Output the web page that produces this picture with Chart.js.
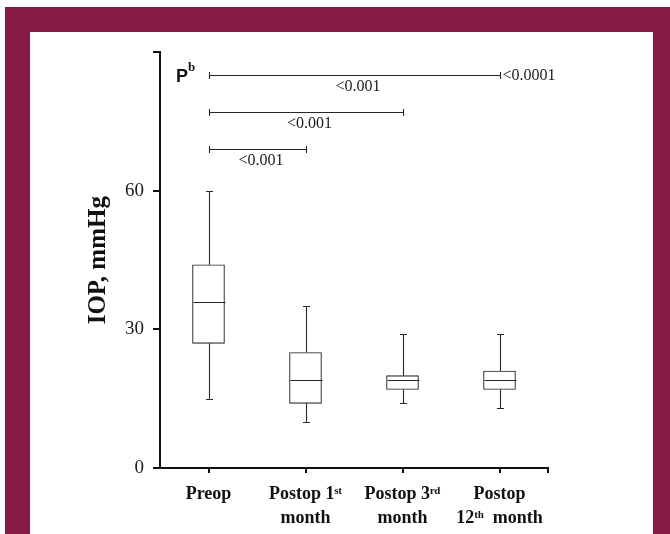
<!DOCTYPE html>
<html>
<head>
<meta charset="utf-8">
<script src="https://cdn.jsdelivr.net/npm/chart.js@4.4.1/dist/chart.umd.min.js"></script>
<style>
  html, body { margin: 0; padding: 0; background: #fff; }
  body { width: 670px; height: 534px; position: relative; overflow: hidden; }
  #frame { position: absolute; left: 5px; top: 7px; width: 665px; height: 527px; background: #861a42; }
  #panel { position: absolute; left: 30px; top: 32px; width: 623px; height: 502px; background: #fff; }
  #boxChart { position: absolute; left: 0; top: 0; }
</style>
</head>
<body>
<div id="frame"></div>
<div id="panel"><canvas id="boxChart" width="623" height="502"></canvas></div>
<script>
/*************** data ***************/
const groups = [["Preop"], ["Postop 1ˢᵗ", "month"], ["Postop 3ʳᵈ", "month"], ["Postop", "12ᵗʰ  month"]];
const whiskerMin = [15, 10, 14, 13];
const q1 = [27, 14, 17, 17];
const median = [36, 19, 19, 19];
const q3 = [44, 25, 20, 21];
const whiskerMax = [60, 35, 29, 29];
const yTicks = [0, 30, 60];
const yMax = 90;

// comparisons: Preop vs group index
const compareTo = [3, 2, 1];
const pBelow = ["<0.001", "<0.001", "<0.001"];
const pRight = ["<0.0001", "", ""];

const serif = "'Liberation Serif', 'Times New Roman', serif";
const ink = "#1a1a1a";
const boxInk = "#262626";

/*************** box parts + brackets ***************/
const boxParts = {
  id: 'boxParts',
  afterDatasetsDraw(chart) {
    const { ctx, scales: { x, y } } = chart;
    const bars = chart.getDatasetMeta(0).data;
    ctx.save();
    ctx.strokeStyle = boxInk;
    ctx.lineWidth = 1.1;
    bars.forEach((bar, i) => {
      const cx = Math.round(bar.x) + 0.5;
      const half = bar.width / 2;
      ctx.beginPath();
      ctx.moveTo(cx, y.getPixelForValue(q3[i]));
      ctx.lineTo(cx, y.getPixelForValue(whiskerMax[i]));
      ctx.moveTo(cx, y.getPixelForValue(q1[i]));
      ctx.lineTo(cx, y.getPixelForValue(whiskerMin[i]));
      [whiskerMax[i], whiskerMin[i]].forEach(v => {
        const py = Math.round(y.getPixelForValue(v)) + 0.5;
        ctx.moveTo(cx - 3.5, py);
        ctx.lineTo(cx + 3.5, py);
      });
      const my = Math.round(y.getPixelForValue(median[i])) + 0.5;
      ctx.moveTo(cx - half, my);
      ctx.lineTo(cx + half, my);
      ctx.stroke();
    });
    ctx.restore();
  },
  afterDraw(chart) {
    const { ctx, chartArea, scales: { x, y } } = chart;
    ctx.save();
    ctx.strokeStyle = boxInk;
    ctx.fillStyle = ink;
    ctx.lineWidth = 1.1;

    // significance brackets
    compareTo.forEach((to, i) => {
      const py = Math.round(y.getPixelForValue(yMax - 5 - 8 * i)) + 0.5;
      const x0 = Math.round(x.getPixelForValue(0)) + 0.5;
      const x1 = Math.round(x.getPixelForValue(to)) + 0.5;
      ctx.beginPath();
      ctx.moveTo(x0, py); ctx.lineTo(x1, py);
      ctx.moveTo(x0, py - 3.5); ctx.lineTo(x0, py + 3.5);
      ctx.moveTo(x1, py - 3.5); ctx.lineTo(x1, py + 3.5);
      ctx.stroke();
      ctx.font = '16px ' + serif;
      ctx.textBaseline = 'middle';
      ctx.textAlign = 'center';
      ctx.fillText(pBelow[i], (x0 + x1) / 2 + 3, py + 11);
      if (pRight[i]) {
        ctx.textAlign = 'left';
        ctx.fillText(pRight[i], x1 + 2, py);
      }
    });

    // P^b marker
    const pyTop = y.getPixelForValue(yMax - 5);
    ctx.textAlign = 'left';
    ctx.textBaseline = 'middle';
    ctx.fillStyle = '#111';
    ctx.font = "bold 18px 'Liberation Sans', Arial, sans-serif";
    ctx.fillText('P', chartArea.left + 16, pyTop + 2);
    ctx.font = 'bold 13px ' + serif;
    ctx.fillText('b', chartArea.left + 28, pyTop - 8);

    // tick at the right end of the x axis
    ctx.strokeStyle = '#111';
    ctx.lineWidth = 2;
    ctx.beginPath();
    ctx.moveTo(chartArea.right, chartArea.bottom);
    ctx.lineTo(chartArea.right, chartArea.bottom + 5);
    ctx.stroke();
    ctx.restore();
  }
};

/*************** chart ***************/
const ctx = document.getElementById('boxChart').getContext('2d');

new Chart(ctx, {
  type: 'bar',
  data: {
    labels: groups,
    datasets: [{
      data: q1.map((v, i) => [v, q3[i]]),
      backgroundColor: '#fff',
      borderColor: boxInk,
      borderWidth: 1.1,
      borderSkipped: false,
      barThickness: 32
    }]
  },
  options: {
    responsive: false,
    animation: false,
    layout: { padding: { top: 20, right: 105, left: 0, bottom: 0 } },
    plugins: {
      legend: { display: false },
      tooltip: { enabled: false }
    },
    scales: {
      x: {
        offset: true,
        afterFit: s => { s.height = 66; },
        grid: {
          offset: false,
          drawOnChartArea: false,
          drawTicks: true,
          tickLength: 5,
          color: '#111',
          lineWidth: 2
        },
        border: { display: true, color: '#111', width: 2 },
        ticks: {
          autoSkip: false,
          maxRotation: 0,
          padding: 9,
          color: '#111',
          font: { family: serif, size: 18, weight: 'bold', lineHeight: 1.33 }
        }
      },
      y: {
        min: 0,
        max: yMax,
        afterFit: s => { s.width = 130; },
        grid: {
          drawOnChartArea: false,
          drawTicks: true,
          tickLength: 7,
          color: '#111',
          lineWidth: 2
        },
        border: { display: true, color: '#111', width: 2 },
        ticks: {
          stepSize: 30,
          padding: 9,
          color: ink,
          font: { family: serif, size: 19 },
          callback: v => yTicks.includes(v) ? v : ''
        },
        title: {
          display: true,
          text: 'IOP, mmHg',
          color: '#111',
          padding: { top: 54, bottom: 0 },
          font: { family: serif, size: 25, weight: 'bold', lineHeight: 1.2 }
        }
      }
    }
  },
  plugins: [boxParts]
});
</script>
</body>
</html>
